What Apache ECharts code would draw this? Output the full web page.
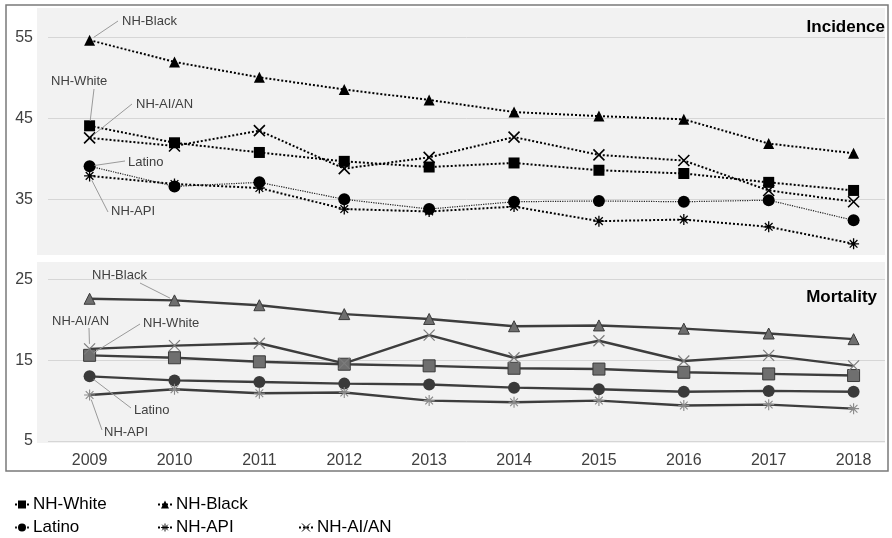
<!DOCTYPE html>
<html>
<head>
<meta charset="utf-8">
<script src="https://cdn.jsdelivr.net/npm/echarts@6/dist/echarts.min.js"></script>
<style>
  html, body { margin: 0; padding: 0; background: #fff; }
  #chart { width: 892px; height: 538px; }
</style>
</head>
<body>
<div id="chart"></div>
<script>
// Years on the shared horizontal axis
const years = [2009, 2010, 2011, 2012, 2013, 2014, 2015, 2016, 2017, 2018];

// Tick labels of the two panels
const incidenceTicks = [35, 45, 55];
const mortalityTicks = [5, 15, 25];

// Incidence rates per group
const incWhite  = [44.1, 42.0, 40.8, 39.7, 39.0, 39.5, 38.6, 38.2, 37.1, 36.1];
const incBlack  = [54.7, 52.0, 50.1, 48.6, 47.3, 45.8, 45.3, 44.9, 41.9, 40.7];
const incLatino = [39.1, 36.6, 37.1, 35.0, 33.8, 34.7, 34.8, 34.7, 34.9, 32.4];
const incApi    = [37.9, 36.9, 36.4, 33.8, 33.5, 34.1, 32.3, 32.5, 31.6, 29.5];
const incAian   = [42.6, 41.6, 43.5, 38.8, 40.2, 42.7, 40.5, 39.8, 36.1, 34.7];

// Mortality rates per group
const morWhite  = [15.6, 15.3, 14.8, 14.5, 14.3, 14.0, 13.9, 13.5, 13.3, 13.1];
const morBlack  = [22.6, 22.4, 21.8, 20.7, 20.1, 19.2, 19.3, 18.9, 18.3, 17.6];
const morLatino = [13.0, 12.5, 12.3, 12.1, 12.0, 11.6, 11.4, 11.1, 11.2, 11.1];
const morApi    = [10.7, 11.4, 10.9, 11.0, 10.0, 9.8, 10.0, 9.4, 9.5, 9.0];
const morAian   = [16.4, 16.8, 17.1, 14.6, 18.1, 15.3, 17.4, 14.9, 15.6, 14.3];

const FONT = '"Liberation Sans", Arial, Helvetica, sans-serif';
const X_PATH = 'path://M0,0L10,10M10,0L0,10';
const STAR_PATH = 'path://M1.5,1.5L8.5,8.5M8.5,1.5L1.5,8.5M5,0L5,10M0,5L10,5';

const pairs = vals => years.map((y, i) => [y, vals[i]]);

function incSeries(name, vals, symbol, size, opts) {
  opts = opts || {};
  const stroked = symbol === X_PATH || symbol === STAR_PATH;
  return {
    name, type: 'line', xAxisIndex: 0, yAxisIndex: 0,
    data: pairs(vals), symbol, symbolSize: size,
    showAllSymbol: true,
    lineStyle: { color: opts.lineColor || '#000', width: opts.lineWidth || 2, type: 'dotted' },
    itemStyle: stroked
      ? { color: '#000', borderColor: '#000', borderWidth: opts.strokeWidth || 1.6 }
      : { color: '#000', borderWidth: 0 },
    emphasis: { disabled: true },
    z: 3
  };
}

function morSeries(name, vals, symbol, size, fill, border, bw) {
  return {
    name, type: 'line', xAxisIndex: 1, yAxisIndex: 1,
    data: pairs(vals), symbol, symbolSize: size,
    showAllSymbol: true,
    lineStyle: { color: '#3d3d3d', width: 2.4, type: 'solid' },
    itemStyle: { color: fill, borderColor: border, borderWidth: bw },
    emphasis: { disabled: true },
    z: 3
  };
}

const series = [
  incSeries('NH-White', incWhite, 'rect', 11),
  incSeries('NH-Black', incBlack, 'triangle', 11),
  incSeries('Latino', incLatino, 'circle', 12, { lineWidth: 1.2, lineColor: '#222' }),
  incSeries('NH-API', incApi, STAR_PATH, 11, { strokeWidth: 1.3 }),
  incSeries('NH-AI/AN', incAian, X_PATH, 11),
  morSeries('NH-White', morWhite, 'rect', 12, '#6f6f6f', '#3a3a3a', 1),
  morSeries('NH-Black', morBlack, 'triangle', 11, '#6f6f6f', '#3a3a3a', 1),
  morSeries('Latino', morLatino, 'circle', 12, '#3a3a3a', '#3a3a3a', 0),
  morSeries('NH-API', morApi, STAR_PATH, 11, '#8a8a8a', '#8a8a8a', 1.1),
  morSeries('NH-AI/AN', morAian, X_PATH, 11, '#7c7c7c', '#7c7c7c', 1.2)
];

function legendAt(name, left, top, itemStyle) {
  return {
    data: [itemStyle ? { name, itemStyle } : name], left, top, orient: 'horizontal',
    itemWidth: 14, itemHeight: 10, itemGap: 0,
    selectedMode: false,
    textStyle: { fontFamily: FONT, fontSize: 17, color: '#000', padding: [0, 0, 0, -1] },
    padding: 0
  };
}

const yAxisBase = (min, max, ticks, gridIndex) => ({
  type: 'value', gridIndex, min, max,
  axisLine: { show: false },
  axisTick: { show: false, customValues: ticks },
  axisLabel: { customValues: ticks, fontFamily: FONT, fontSize: 16, color: '#404040', margin: 15 },
  splitLine: { show: true, lineStyle: { color: '#d6d6d6', width: 1 } }
});

const chart = echarts.init(document.getElementById('chart'), null, { renderer: 'canvas' });

chart.setOption({
  animation: false,
  backgroundColor: '#fff',
  grid: [
    { left: 48, right: 7, top: 5.4, height: 250.5 },
    { left: 48, right: 7, top: 263.2, height: 177.8 }
  ],
  xAxis: [
    { type: 'value', gridIndex: 0, min: 2008.51, max: 2018.37,
      axisLine: { show: false }, axisTick: { show: false }, axisLabel: { show: false }, splitLine: { show: false } },
    { type: 'value', gridIndex: 1, min: 2008.51, max: 2018.37,
      axisLine: { show: false },
      axisTick: { show: false, customValues: years },
      axisLabel: { customValues: years, fontFamily: FONT, fontSize: 16, color: '#404040', margin: 12,
                   formatter: v => String(v) },
      splitLine: { show: false } }
  ],
  yAxis: [
    yAxisBase(28, 59, incidenceTicks, 0),
    yAxisBase(5, 27, mortalityTicks, 1)
  ],
  legend: [
    legendAt('NH-White', 14, 496),
    legendAt('NH-Black', 157, 496),
    legendAt('Latino', 14, 519),
    legendAt('NH-API', 157, 519, { color: 'none', borderColor: '#000', borderWidth: 0.9 }),
    legendAt('NH-AI/AN', 298, 519, { color: 'none', borderColor: '#000', borderWidth: 1 })
  ],
  series
});

// Panel backgrounds, frame, titles and callouts pointing at data points
function px(grid, year, value) {
  return chart.convertToPixel({ gridIndex: grid }, [year, value]);
}

function callout(grid, year, value, text, textLeft, textMidY, from) {
  const p = px(grid, year, value);
  const dx = p[0] - from[0], dy = p[1] - from[1];
  const len = Math.sqrt(dx * dx + dy * dy);
  const cut = 5;
  const end = [p[0] - dx / len * cut, p[1] - dy / len * cut];
  return [
    { type: 'line', silent: true, z: 5,
      shape: { x1: from[0], y1: from[1], x2: end[0], y2: end[1] },
      style: { stroke: '#9a9a9a', lineWidth: 1 } },
    { type: 'text', silent: true, z: 5, x: textLeft, y: textMidY,
      style: { text, font: '13px ' + FONT, fill: '#404040', verticalAlign: 'middle', align: 'left' } }
  ];
}

const graphics = [
  { type: 'rect', silent: true, z: -10, shape: { x: 37, y: 8, width: 848, height: 247 }, style: { fill: '#f2f2f2' } },
  { type: 'rect', silent: true, z: -10, shape: { x: 37, y: 262, width: 848, height: 181 }, style: { fill: '#f2f2f2' } },
  { type: 'rect', silent: true, z: 6, shape: { x: 6, y: 5, width: 882, height: 466 },
    style: { fill: 'none', stroke: '#7a7a7a', lineWidth: 1.5 } },
  { type: 'text', silent: true, z: 6, x: 885, y: 27,
    style: { text: 'Incidence', font: 'bold 17px ' + FONT, fill: '#000', align: 'right', verticalAlign: 'middle' } },
  { type: 'text', silent: true, z: 6, x: 877, y: 297,
    style: { text: 'Mortality', font: 'bold 17px ' + FONT, fill: '#000', align: 'right', verticalAlign: 'middle' } }
].concat(
  callout(0, years[0], incBlack[0], 'NH-Black', 122, 21, [118, 21]),
  callout(0, years[0], incWhite[0], 'NH-White', 51, 81, [94, 89]),
  callout(0, years[0], incAian[0], 'NH-AI/AN', 136, 104, [132, 104]),
  callout(0, years[0], incLatino[0], 'Latino', 128, 162, [125, 161]),
  callout(0, years[0], incApi[0], 'NH-API', 111, 211, [108, 212]),
  callout(1, years[1], morBlack[1], 'NH-Black', 92, 275, [140, 283]),
  callout(1, years[0], morAian[0], 'NH-AI/AN', 52, 321, [89, 328]),
  callout(1, years[0], morWhite[0], 'NH-White', 143, 323, [140, 324]),
  callout(1, years[0], morLatino[0], 'Latino', 134, 410, [131, 408]),
  callout(1, years[0], morApi[0], 'NH-API', 104, 432, [102, 430])
);

chart.setOption({ graphic: graphics });
</script>
</body>
</html>
